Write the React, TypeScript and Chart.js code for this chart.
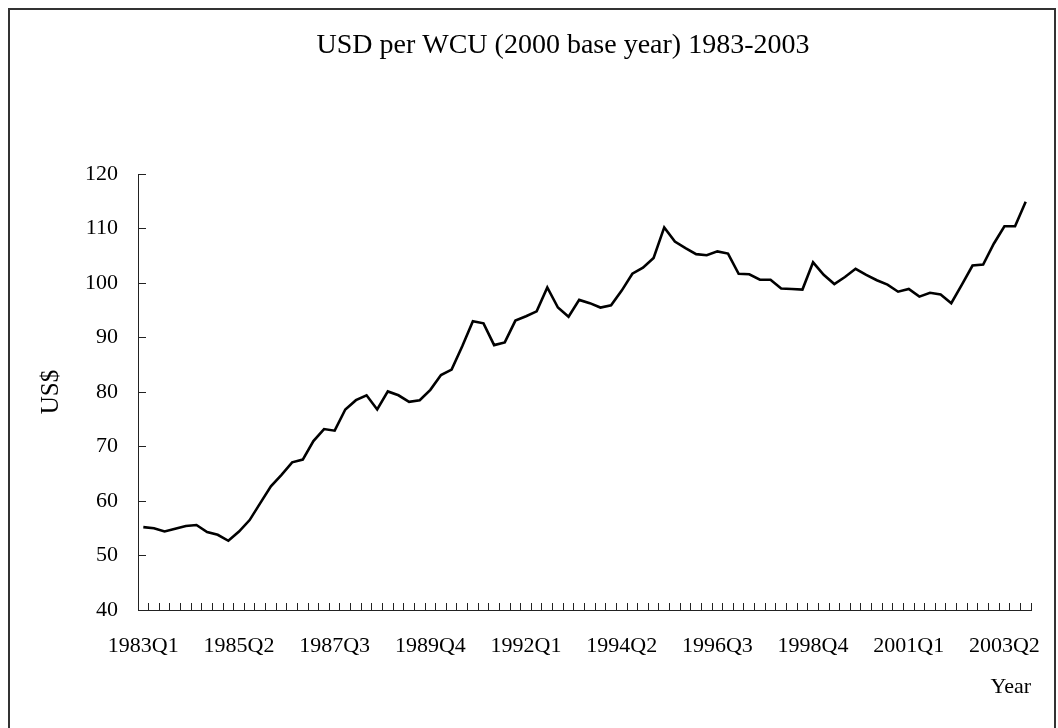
import React, { useEffect, useRef } from "react";
import { Chart, registerables } from "chart.js";

Chart.register(...registerables);

const years = [
  1983, 1984, 1985, 1986, 1987, 1988, 1989, 1990, 1991, 1992, 1993,
  1994, 1995, 1996, 1997, 1998, 1999, 2000, 2001, 2002, 2003,
];
const quarterNames = ["Q1", "Q2", "Q3", "Q4"];
const categories = years.flatMap((y) => quarterNames.map((q) => `${y}${q}`));

const shownLabels = [
  "1983Q1", "1985Q2", "1987Q3", "1989Q4", "1992Q1",
  "1994Q2", "1996Q3", "1998Q4", "2001Q1", "2003Q2",
];

const usdPerWcu = [
  55.2, 55.0, 54.4, 54.9, 55.4, 55.6, 54.3, 53.8, 52.7, 54.4,
  56.5, 59.6, 62.7, 64.8, 67.1, 67.6, 71.0, 73.2, 72.9, 76.8,
  78.5, 79.4, 76.8, 80.1, 79.4, 78.2, 78.5, 80.4, 83.1, 84.1,
  88.4, 93.0, 92.6, 88.6, 89.1, 93.1, 93.9, 94.8, 99.2, 95.5,
  93.8, 96.9, 96.3, 95.5, 95.9, 98.6, 101.7, 102.8, 104.6, 110.2,
  107.6, 106.4, 105.3, 105.1, 105.8, 105.4, 101.7, 101.6, 100.6, 100.6,
  99.0, 98.9, 98.8, 103.8, 101.5, 99.8, 101.1, 102.6, 101.5, 100.5,
  99.7, 98.4, 98.9, 97.5, 98.2, 97.9, 96.3, 99.7, 103.2, 103.4,
  107.2, 110.4, 110.4, 114.9,
];

const yTicks = [40, 50, 60, 70, 80, 90, 100, 110, 120];

const chartTitle = "USD per WCU (2000 base year) 1983-2003";

const FONT = "'Liberation Serif', 'DejaVu Serif', serif";

const titlePlugin = {
  id: "offsetTitle",
  afterDraw(chart: any) {
    const ctx = chart.ctx;
    ctx.save();
    ctx.font = `28px ${FONT}`;
    ctx.fillStyle = "#000";
    ctx.textAlign = "center";
    ctx.textBaseline = "middle";
    ctx.fillText(chartTitle, 553, 36);
    ctx.restore();
  },
};

export default function App() {
  const ref = useRef<HTMLCanvasElement | null>(null);

  useEffect(() => {
    if (!ref.current) return;
    const chart = new Chart(ref.current, {
      type: "line",
      data: {
        labels: categories,
        datasets: [
          {
            label: "USD per WCU",
            data: usdPerWcu,
            borderColor: "#000",
            borderWidth: 2.6,
            pointRadius: 0,
            tension: 0,
            fill: false,
          },
        ],
      },
      plugins: [titlePlugin],
      options: {
        responsive: false,
        animation: false,
        devicePixelRatio: 1,
        layout: { padding: { left: 0, right: 21, top: 164, bottom: 0 } },
        plugins: {
          legend: { display: false },
          tooltip: { enabled: false },
          title: { display: false },
        },
        scales: {
          x: {
            type: "category",
            offset: true,
            border: { display: true, color: "#222", width: 1 },
            grid: {
              display: true,
              offset: true,
              drawOnChartArea: false,
              drawTicks: true,
              tickLength: -7,
              color: "#222",
            },
            ticks: {
              autoSkip: false,
              maxRotation: 0,
              minRotation: 0,
              padding: 30,
              color: "#000",
              font: { family: FONT, size: 22 },
              callback: function (this: any, value: any) {
                const lab = this.getLabelForValue(value);
                return shownLabels.includes(lab) ? lab : "";
              },
            },
            title: {
              display: true,
              text: "Year",
              align: "end",
              color: "#000",
              font: { family: FONT, size: 22 },
              padding: { top: 0, bottom: 22 },
            },
            afterFit: (scale: any) => {
              scale.height = 112;
              scale.paddingLeft = 0;
              scale.paddingRight = 0;
            },
          },
          y: {
            min: 40,
            max: 120,
            border: { display: true, color: "#222", width: 1 },
            grid: {
              display: true,
              drawOnChartArea: false,
              drawTicks: true,
              tickLength: -8,
              color: "#222",
            },
            afterBuildTicks: (scale: any) => {
              scale.ticks = yTicks.map((v) => ({ value: v }));
            },
            ticks: {
              padding: 28,
              color: "#000",
              font: { family: FONT, size: 22 },
            },
            title: {
              display: true,
              text: "US$",
              color: "#000",
              font: { family: FONT, size: 25 },
              padding: { top: 26, bottom: 0 },
            },
            afterFit: (scale: any) => {
              scale.width = 128;
            },
          },
        },
      },
    });
    return () => chart.destroy();
  }, []);

  return (
    <div
      style={{
        position: "fixed",
        left: 8,
        top: 8,
        width: 1048,
        height: 730,
        border: "2px solid #333",
        boxSizing: "border-box",
        background: "#fff",
      }}
    >
      <canvas
        ref={ref}
        width={1042}
        height={712}
        style={{ position: "absolute", left: 0, top: 0, width: 1042, height: 712 }}
      />
    </div>
  );
}
